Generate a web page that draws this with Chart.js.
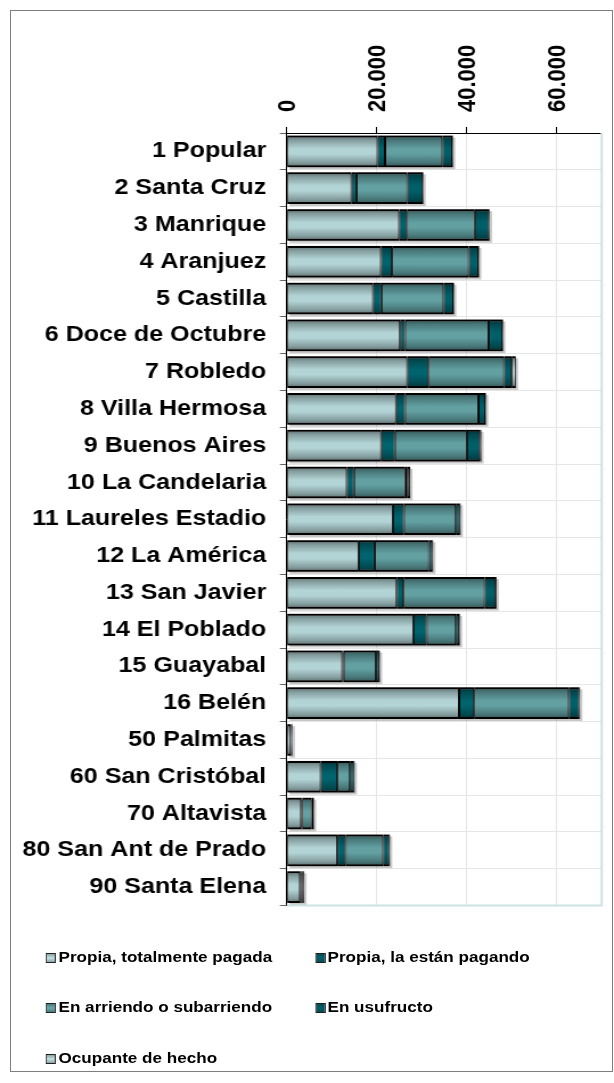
<!DOCTYPE html>
<html>
<head>
<meta charset="utf-8">
<script src="https://cdn.jsdelivr.net/npm/chart.js@4.4.1/dist/chart.umd.min.js"></script>
<style>
  html, body { margin:0; padding:0; background:#fff; width:614px; height:1083px; overflow:hidden; }
  #frame { position:absolute; left:10px; top:10px; width:603px; height:1062px; border:1px solid #7f7f7f; box-sizing:border-box; }
  #wrap { position:absolute; left:0; top:0; width:539px; height:1083px; transform:scaleX(1.13915); transform-origin:0 0; }
  #c { position:absolute; left:0; top:0; }
  .lg { position:absolute; font-family:"Liberation Sans", Arial, sans-serif; font-weight:bold; font-size:15px; color:#000; white-space:nowrap; line-height:18px; }
  .lg i { display:inline-block; width:7px; height:8px; border:1px solid #222; margin-right:2px; vertical-align:-1px; }
</style>
</head>
<body>
<div id="frame"></div>
<div id="wrap">
  <canvas id="c" width="539" height="1083"></canvas>
  <div id="legend"></div>
</div>
<script>
const categories = ['1 Popular','2 Santa Cruz','3 Manrique','4 Aranjuez','5 Castilla','6 Doce de Octubre','7 Robledo','8 Villa Hermosa','9 Buenos Aires','10 La Candelaria','11 Laureles Estadio','12 La América','13 San Javier','14 El Poblado','15 Guayabal','16 Belén','50 Palmitas','60 San Cristóbal','70 Altavista','80 San Ant de Prado','90 Santa Elena'];
const seriesNames = ['Propia, totalmente pagada','Propia, la están pagando','En arriendo o subarriendo','En usufructo','Ocupante de hecho'];
const pagada    = [20200,14400,25000,20950,19200,25200,26800,24300,21000,13350,23600,16000,24450,28150,12350,38300,900,7550,3200,11250,2950];
const pagando   = [1650,1100,1750,2450,1850,1100,4750,2000,3050,1600,2450,3550,1500,2950,300,3350,100,3700,250,1850,250];
const arriendo  = [12750,11300,15050,17050,13800,18600,16750,16300,16000,11400,11550,12050,18050,6500,7200,21050,150,2800,2100,8350,250];
const usufructo = [2200,3450,3200,2150,2200,3050,1700,1550,2900,500,900,800,2450,750,700,2350,100,900,350,1350,350];
const ocupante  = [150,150,150,150,150,150,900,150,300,600,150,150,200,150,150,150,100,150,150,150,100];
const xTicks = [0,20000,40000,60000];

const colors = ['#b3d4d6','#00636d','#62a0a2','#00606a','#b3d4d6'];
const seriesData = [pagada,pagando,arriendo,usufructo,ocupante];

const FONT = '"Liberation Sans", Arial, sans-serif';

const shade = {
  id:'shade',
  beforeDatasetsDraw(chart){
    const ctx = chart.ctx;
    ctx.save();
    ctx.fillStyle = 'rgba(0,0,0,0.22)';
    chart.data.datasets.forEach((ds,i)=>{
      chart.getDatasetMeta(i).data.forEach(el=>{
        const p = el.getProps(['x','y','base','height'], true);
        const l = Math.min(p.x,p.base), r = Math.max(p.x,p.base);
        ctx.fillRect(l+2, p.y - p.height/2 + 2, r-l, p.height);
      });
    });
    ctx.restore();
  },
  afterDatasetsDraw(chart){
    const ctx = chart.ctx;
    ctx.save();
    chart.data.datasets.forEach((ds,i)=>{
      chart.getDatasetMeta(i).data.forEach(el=>{
        const p = el.getProps(['x','y','base','height'], true);
        const l = Math.min(p.x,p.base), r = Math.max(p.x,p.base);
        const t = p.y - p.height/2;
        const g = ctx.createLinearGradient(0,t,0,t+p.height);
        g.addColorStop(0,'rgba(0,0,0,0.5)');
        g.addColorStop(0.15,'rgba(0,0,0,0.26)');
        g.addColorStop(0.42,'rgba(0,0,0,0)');
        g.addColorStop(0.58,'rgba(0,0,0,0)');
        g.addColorStop(0.85,'rgba(0,0,0,0.26)');
        g.addColorStop(1,'rgba(0,0,0,0.5)');
        ctx.fillStyle = g;
        ctx.fillRect(l, t, r-l, p.height);
      });
    });
    ctx.restore();
  },
  afterDraw(chart){
    const a = chart.chartArea, ctx = chart.ctx;
    ctx.save();
    ctx.strokeStyle = '#cfe2e2';
    ctx.lineWidth = 2;
    ctx.beginPath();
    ctx.moveTo(a.right, a.top);
    ctx.lineTo(a.right, a.bottom);
    ctx.lineTo(a.left, a.bottom);
    ctx.stroke();
    ctx.restore();
  }
};

new Chart(document.getElementById('c'), {
  type:'bar',
  data:{
    labels: categories,
    datasets: seriesData.map((d,i)=>({
      label: seriesNames[i],
      data: d,
      backgroundColor: colors[i],
      borderColor:'#000',
      borderWidth:{top:2,bottom:2,left:1,right:1},
      borderSkipped:false,
      barPercentage:0.86,
      categoryPercentage:1
    }))
  },
  options:{
    indexAxis:'y',
    responsive:false,
    animation:false,
    devicePixelRatio:1,
    layout:{ padding:{ left:0, top:0, right:10.8, bottom:177.5 } },
    plugins:{ legend:{display:false}, tooltip:{enabled:false} },
    scales:{
      x:{
        position:'top',
        stacked:true,
        min:0, max:70000,
        afterFit(s){ s.height = 133; },
        afterBuildTicks(s){ s.ticks = xTicks.map(v=>({value:v})); },
        ticks:{
          minRotation:90, maxRotation:90, autoSkip:false, padding:15, labelOffset:28,
          color:'#000',
          font:{family:FONT, size:22, weight:'bold'},
          callback:v=>String(v).replace(/\B(?=(\d{3})+(?!\d))/g,'.')
        },
        grid:{ color:'#e6e6e6', lineWidth:1, tickColor:'#000', tickLength:6 },
        border:{ display:true, color:'#000', width:1 }
      },
      y:{
        stacked:true,
        afterFit(s){ s.width = 251.7; },
        ticks:{ color:'#000', padding:12, font:{family:FONT, size:22, weight:'bold'}, autoSkip:false },
        grid:{ color:'#e6e6e6', lineWidth:1, tickColor:'#666', tickLength:6, offset:true },
        border:{ display:true, color:'#000', width:1 }
      }
    }
  },
  plugins:[shade]
});

const legendPos = [[40.4,948],[276.5,948],[40.4,998],[276.5,998],[40.4,1049]];
const swatch = [
  'linear-gradient(#8aa5a7,#c3e0e2 50%,#8aa5a7)',
  'linear-gradient(#004a52,#00636d 50%,#004a52)',
  'linear-gradient(#467d7f,#6aa8aa 50%,#467d7f)',
  'linear-gradient(#004a52,#00606a 50%,#004a52)',
  'linear-gradient(#8aa5a7,#c3e0e2 50%,#8aa5a7)'
];
const lg = document.getElementById('legend');
seriesNames.forEach((n,i)=>{
  const d = document.createElement('div');
  d.className = 'lg';
  d.style.left = legendPos[i][0]+'px';
  d.style.top = legendPos[i][1]+'px';
  d.innerHTML = '<i style="background:'+swatch[i]+'"></i>' + n;
  lg.appendChild(d);
});
</script>
</body>
</html>
